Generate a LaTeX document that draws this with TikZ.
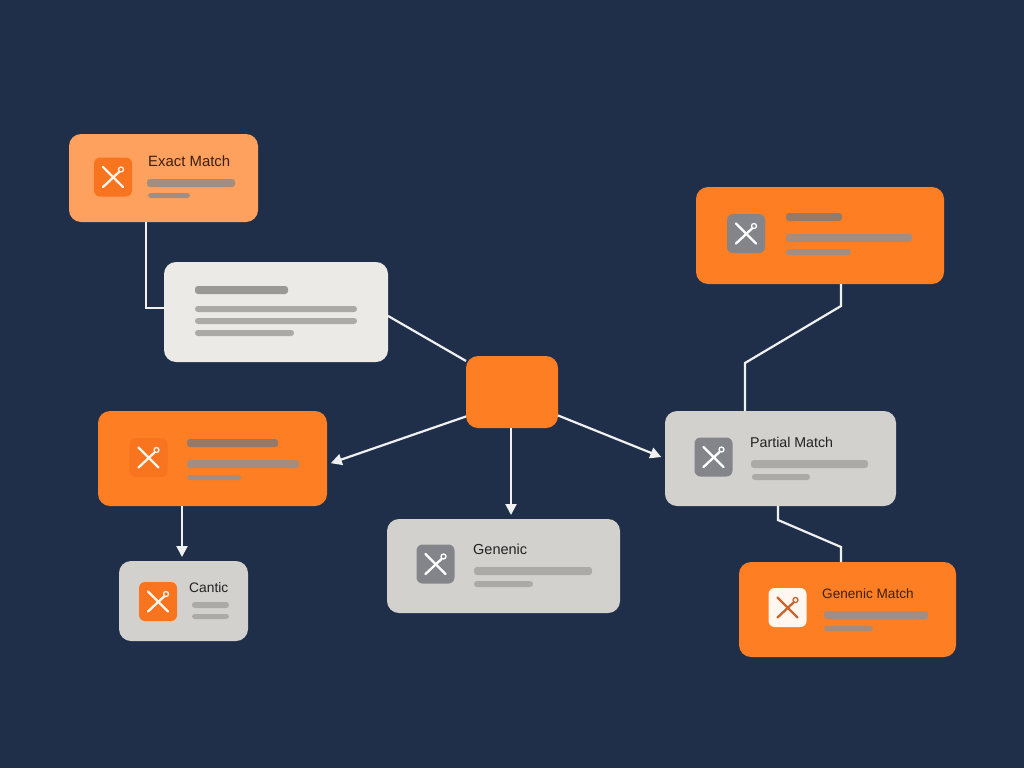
\documentclass[tikz,border=0pt]{standalone}
\usepackage{xcolor}
\usepackage{fontspec}
\usepackage{tikz}
\usetikzlibrary{arrows.meta}
\setmainfont{Liberation Sans}

\definecolor{navybg}{HTML}{1F2F4A}
\definecolor{deeporange}{HTML}{FD7E23}
\definecolor{softorange}{HTML}{FEA05E}
\definecolor{paleorange}{HTML}{F9741E}
\definecolor{warmgrey}{HTML}{D2D1CD}
\definecolor{palegrey}{HTML}{EBEAE6}
\definecolor{iconslate}{HTML}{84858A}
\definecolor{linegrey}{HTML}{ABAAA7}
\definecolor{lineonorange}{HTML}{A38D80}
\definecolor{linedark}{HTML}{957A6A}
\definecolor{inkbrown}{HTML}{3E2010}
\definecolor{inkdark}{HTML}{222224}
\definecolor{crossrust}{HTML}{C8642C}

\tikzset{
    card/.style={rectangle, rounded corners=12pt, minimum width=#1, inner sep=0pt, outer sep=0pt},
    iconbox/.style={rectangle, rounded corners=6pt, minimum width=38pt, minimum height=39pt, inner sep=0pt, outer sep=0pt},
    linebar/.style={rectangle, rounded corners=2.9pt, anchor=west, inner sep=0pt, outer sep=0pt},
    cardtitle/.style={anchor=base west, inner sep=0pt, font=\fontsize{#1}{16}\selectfont},
    wire/.style={draw=white!94!black, line width=2.2pt},
    arrowwire/.style={wire, -{Triangle[length=11pt,width=11pt]}, shorten >=4pt}
}

% grey or orange line inside a card: name, left, middle, width, height, colour
\newcommand{\cardline}[6]{\node[linebar, fill=#6, minimum width=#4, minimum height=#5] (#1) at (#2,#3) {};}
% crossed tools on an icon box: node, colour
\newcommand{\iconmark}[2]{%
    \draw[shift={(#1.center)}, draw=#2, line width=2.3pt, line cap=round] (-10,-10) -- (10,10);
    \draw[shift={(#1.center)}, draw=#2, line width=2.3pt, line cap=round] (-10,10) -- (6,-5);
    \draw[shift={(#1.center)}, draw=#2, line width=1.3pt] (8,-7.5) circle (2.5);}

\begin{document}
\begin{tikzpicture}[x=1pt, y=-1pt]
    \fill[navybg] (0,0) rectangle (1024,768);
    \useasboundingbox (0,0) rectangle (1024,768);

    % Cards
    \node[card=189pt, fill=softorange, minimum height=88pt] (exact) at (163.5,178) {};
    \node[card=224pt, fill=palegrey, minimum height=100pt] (note) at (276,312) {};
    \node[card=92pt, fill=deeporange, minimum height=72pt] (hub) at (512,392) {};
    \node[card=229pt, fill=deeporange, minimum height=95pt] (tools) at (212.5,458.5) {};
    \node[card=129pt, fill=warmgrey, minimum height=80pt] (cantic) at (183.5,601) {};
    \node[card=233pt, fill=warmgrey, minimum height=94pt] (generic) at (503.5,566) {};
    \node[card=231pt, fill=warmgrey, minimum height=95pt] (partial) at (780.5,458.5) {};
    \node[card=217pt, fill=deeporange, minimum height=95pt] (genmatch) at (847.5,609.5) {};
    \node[card=248pt, fill=deeporange, minimum height=97pt] (upper) at (820,235.5) {};

    % Icons
    \node[iconbox, fill=paleorange] (exacticon) at (113,177) {};
    \node[iconbox, fill=paleorange] (toolsicon) at (148.5,457.5) {};
    \node[iconbox, fill=paleorange] (canticicon) at (158,601.5) {};
    \node[iconbox, fill=iconslate] (genericicon) at (435.5,564) {};
    \node[iconbox, fill=iconslate] (partialicon) at (713.5,457) {};
    \node[iconbox, fill=white!94!orange] (genmatchicon) at (787.5,607.5) {};
    \node[iconbox, fill=iconslate] (uppericon) at (746,233.5) {};
    \iconmark{exacticon}{white!92!orange}
    \iconmark{toolsicon}{white!92!orange}
    \iconmark{canticicon}{white!92!orange}
    \iconmark{genericicon}{white}
    \iconmark{partialicon}{white}
    \iconmark{genmatchicon}{crossrust}
    \iconmark{uppericon}{white}

    % Titles
    \node[cardtitle=14.9, text=inkbrown] (exacttitle) at (148,166) {Exact Match};
    \node[cardtitle=13.8, text=inkdark] (cantictitle) at (189,592) {Cantic};
    \node[cardtitle=14.5, text=inkdark] (generictitle) at (473,554) {Genenic};
    \node[cardtitle=14.2, text=inkdark] (partialtitle) at (750,447) {Partial Match};
    \node[cardtitle=13.6, text=inkbrown] (genmatchtitle) at (822,598) {Genenic Match};

    % Lines inside the cards
    \cardline{exactA}{147}{183}{88pt}{8pt}{lineonorange}
    \cardline{exactB}{148}{195.5}{42pt}{5pt}{lineonorange}
    \cardline{noteA}{195}{290}{93pt}{8pt}{linegrey!90!black}
    \cardline{noteB}{195}{309}{162pt}{6pt}{linegrey}
    \cardline{noteC}{195}{321}{162pt}{6pt}{linegrey}
    \cardline{noteD}{195}{333}{99pt}{6pt}{linegrey}
    \cardline{toolsA}{187}{443}{91pt}{8pt}{linedark}
    \cardline{toolsB}{187}{464}{112pt}{8pt}{lineonorange}
    \cardline{toolsC}{187}{477.5}{54pt}{5pt}{lineonorange}
    \cardline{canticA}{192}{605}{37pt}{6pt}{linegrey}
    \cardline{canticB}{192}{616.5}{37pt}{5pt}{linegrey}
    \cardline{genericA}{474}{571}{118pt}{8pt}{linegrey}
    \cardline{genericB}{474}{584}{59pt}{6pt}{linegrey}
    \cardline{partialA}{751}{464}{117pt}{8pt}{linegrey}
    \cardline{partialB}{752}{477}{58pt}{6pt}{linegrey}
    \cardline{genmatchA}{824}{615}{104pt}{8pt}{lineonorange}
    \cardline{genmatchB}{824}{628.5}{49pt}{5pt}{lineonorange}
    \cardline{upperA}{786}{217}{56pt}{8pt}{linedark}
    \cardline{upperB}{786}{238}{126pt}{8pt}{lineonorange}
    \cardline{upperC}{786}{252}{65pt}{6pt}{lineonorange}

    % Bends
    \coordinate (exactbend) at (146,308);
    \coordinate (drop) at (182,530);
    \coordinate (upperbend) at (841,306);
    \coordinate (upperlow) at (745,363);
    \coordinate (partialbend) at (778,520);
    \coordinate (genbend) at (841,547);
    \coordinate (hubdrop) at (511,470);

    % Edges
    \draw[wire] (exactbend |- exact.south) -- (exactbend) -- (exactbend -| note.west);
    \draw[wire] (note.-2) -- (hub.146);
    \draw[arrowwire] (hub.208) -- (tools.-3);
    \draw[arrowwire] (hubdrop |- hub.south) -- (hubdrop |- generic.north);
    \draw[arrowwire] (hub.-27) -- (partial.180);
    \draw[arrowwire] (drop |- tools.south) -- (drop |- cantic.north);
    \draw[wire] (upperbend |- upper.south) -- (upperbend) -- (upperlow) -- (upperlow |- partial.north);
    \draw[wire] (partialbend |- partial.south) -- (partialbend) -- (genbend) -- (genbend |- genmatch.north);
\end{tikzpicture}
\end{document}
